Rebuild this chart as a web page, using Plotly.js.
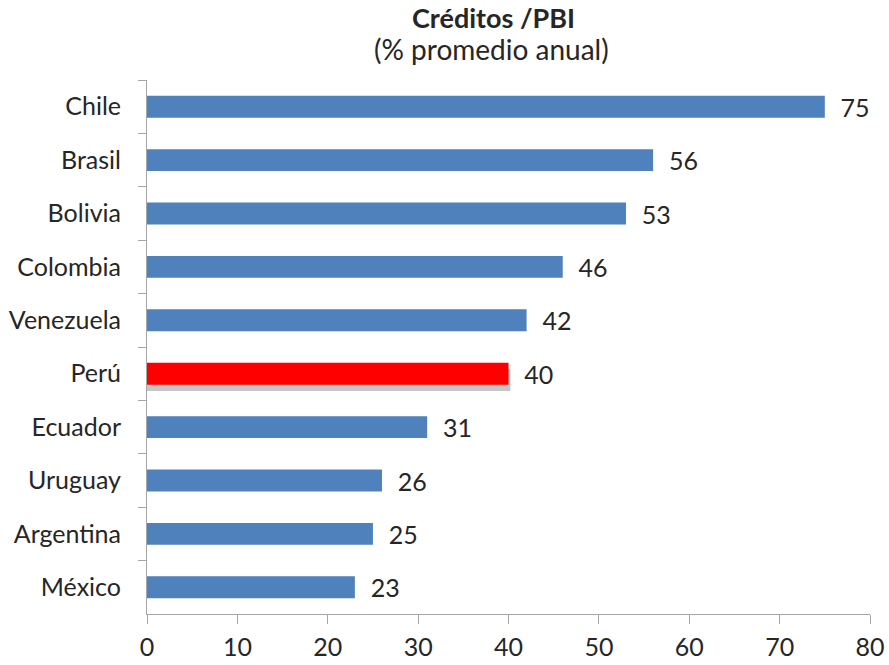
<!DOCTYPE html>
<html>
<head>
<meta charset="utf-8">
<script src="https://cdn.plot.ly/plotly-3.0.1.min.js"></script>
<style>html,body{margin:0;padding:0;background:#fff;}#chart{width:889px;height:665px;}</style>
</head>
<body>
<div id="chart"></div>
<script>
const countries = ["Chile","Brasil","Bolivia","Colombia","Venezuela","Perú","Ecuador","Uruguay","Argentina","México"];
const values = [75,56,53,46,42,40,31,26,25,23];
const highlight = "Perú";
const xTicks = [0,10,20,30,40,50,60,70,80];

const colors = countries.map(c => c === highlight ? "#FF0000" : "#4F81BD");
const FONT = "Lato, Carlito, Open Sans, sans-serif";
const TXT = "#262626";

const hiVal = values[countries.indexOf(highlight)];

const shadow = {
  type: "bar", orientation: "h",
  y: [highlight], x: [hiVal + 0.2],
  width: 0.41, offset: -0.205 + 0.12,
  marker: {color: "rgba(160,160,160,0.6)", line: {width: 0}},
  hoverinfo: "skip"
};

const trace = {
  type: "bar",
  orientation: "h",
  y: countries,
  x: values,
  width: 0.41, offset: -0.205,
  marker: {color: colors, line: {width: 0}},
  text: values.map(v => "\u00a0\u00a0" + v),
  textposition: "outside",
  constraintext: "none",
  cliponaxis: false,
  textfont: {family: FONT, size: 25, color: TXT},
  outsidetextfont: {family: FONT, size: 25, color: TXT},
  hoverinfo: "x+y"
};

const layout = {
  width: 889, height: 665,
  margin: {l: 147, r: 19, t: 80, b: 51},
  paper_bgcolor: "#fff", plot_bgcolor: "#fff",
  showlegend: false,
  barmode: "overlay",
  font: {family: FONT, color: TXT},
  xaxis: {
    range: [0, 80], tickvals: xTicks, ticktext: xTicks.map(String),
    showgrid: false, zeroline: false,
    showline: true, linecolor: "#A6A6A6", linewidth: 1,
    ticks: "outside", ticklen: 9, tickcolor: "#A6A6A6",
    ticklabelstandoff: 2,
    tickfont: {family: FONT, size: 25, color: TXT}
  },
  yaxis: {
    type: "category", categoryorder: "array", categoryarray: countries,
    autorange: "reversed",
    showgrid: false, zeroline: false,
    showline: true, linecolor: "#A6A6A6", linewidth: 1,
    ticks: "outside", ticklen: 8, tickcolor: "#A6A6A6", tickson: "boundaries",
    ticklabelstandoff: 20,
    tickfont: {family: FONT, size: 25, color: TXT}
  },
  annotations: [
    {text: "<b>Créditos /PBI</b>", xref: "paper", yref: "paper", x: (493-147)/723, y: 1 + (80-17)/534,
     xanchor: "center", yanchor: "middle", showarrow: false, font: {family: FONT, size: 27, color: TXT}},
    {text: "(% promedio anual)", xref: "paper", yref: "paper", x: (491-147)/723, y: 1 + (80-49)/534,
     xanchor: "center", yanchor: "middle", showarrow: false, font: {family: FONT, size: 28, color: TXT}}
  ]
};

Plotly.newPlot("chart", [shadow, trace], layout, {displayModeBar: false, staticPlot: true});
</script>
</body>
</html>
